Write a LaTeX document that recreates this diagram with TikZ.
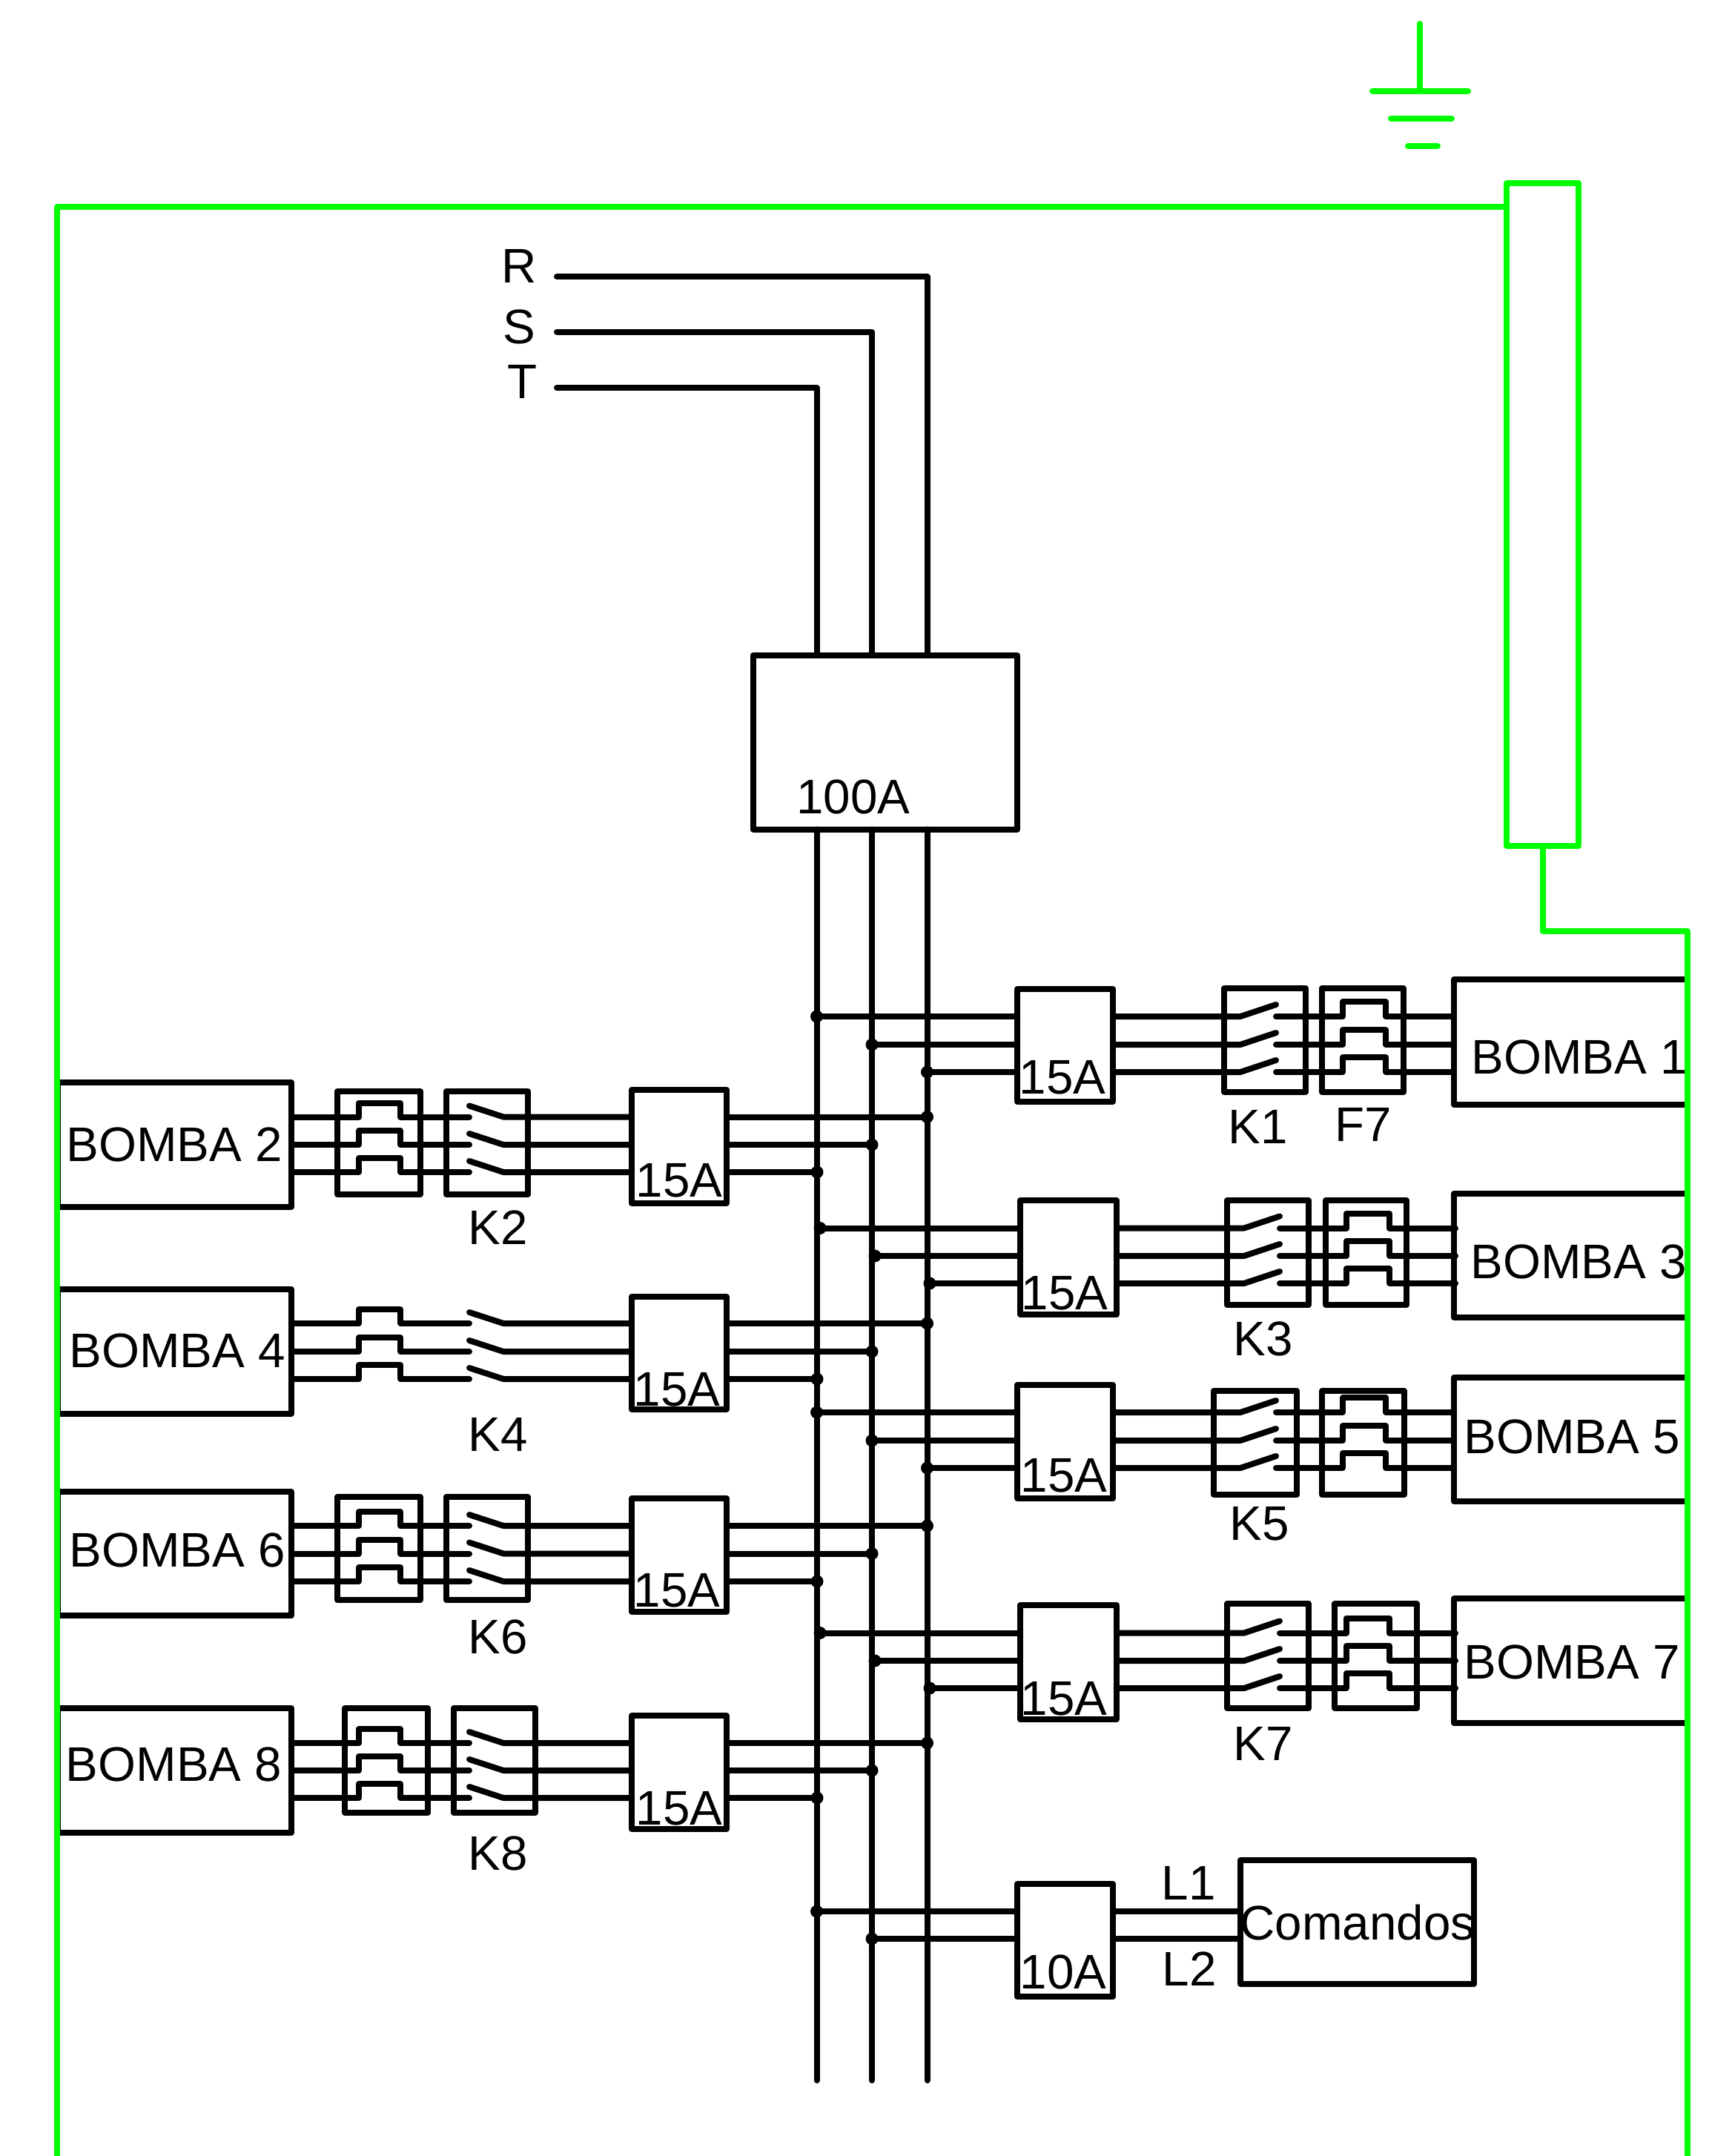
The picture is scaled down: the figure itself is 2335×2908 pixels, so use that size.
\documentclass[tikz,border=0pt]{standalone}
\usepackage{fontspec}
\setmainfont{Liberation Sans}
\tikzset{
  wire/.style={line width=8pt,line cap=round,line join=round,black},
  gwire/.style={line width=8pt,line cap=round,line join=round,green},
  blk/.style={draw=black,line width=8pt,line join=round,inner sep=0pt,outer sep=0pt,fill=none},
  gblk/.style={draw=green,line width=8pt,line join=round,inner sep=0pt,outer sep=0pt,fill=none},
  txt/.style={inner sep=0pt,outer sep=0pt,anchor=base,font=\fontsize{65.5}{70}\selectfont},
  dotc/.style={circle,fill=black,inner sep=0pt,minimum size=17pt,outer sep=0pt}
}
\definecolor{green}{RGB}{0,255,0}
\newcommand{\blkn}[6][blk]{%
  \node[#1,minimum width={(#5-#3)*1pt},minimum height={(#6-#4)*1pt}] (#2) at ({(#3+#5)/2},{(#4+#6)/2}) {};}
\newcommand{\lab}[4]{\node[txt] (#1) at (#2,#3) {#4};}
% right phase: id, dot x, y, breaker, hinge x, bump left x, end x
\newcommand{\Rph}[7]{%
  \node[dotc] (#1d) at (#2,#3) {};
  \coordinate (#1h) at (#5,#3);
  \coordinate (#1t) at ({#5+48},{#3-16});
  \coordinate (#1c) at ({#5+48},#3);
  \coordinate (#1e) at (#7,#3);
  \draw[wire] (#1d.center) -- (#1d.center -| #4.west);
  \draw[wire] (#1d.center -| #4.east) -- (#1h) -- (#1t);
  \draw[wire] (#1c) -- (#6,#3) -- (#6,{#3-20}) -- ({#6+58},{#3-20}) -- ({#6+58},#3) -- (#1e);}
% left phase: id, dot x, y, breaker, motor box
\newcommand{\Lph}[5]{%
  \node[dotc] (#1d) at (#2,#3) {};
  \coordinate (#1h) at (679,#3);
  \coordinate (#1t) at (633,{#3-15});
  \coordinate (#1c) at (633,#3);
  \draw[wire] (#1d.center) -- (#1d.center -| #4.east);
  \draw[wire] (#1d.center -| #4.west) -- (#1h) -- (#1t);
  \draw[wire] (#1c) -- (540,#3) -- (540,{#3-19}) -- (484,{#3-19}) -- (484,#3) -- (#1d.center -| #5.east);}
\begin{document}
\begin{tikzpicture}[x=1pt,y=-1pt]
\useasboundingbox (0,0) rectangle (2335,2908);
% main breaker and buses
\blkn{qm}{1015.5}{884}{1372}{1118.5}
\lab{qmt}{1151}{1097}{100A}
\lab{tR}{700}{381}{R}
\lab{tS}{700}{463}{S}
\lab{tT}{704}{537}{T}
\coordinate (rs) at (751,373); \coordinate (ss) at (751,447.5); \coordinate (ts) at (751,523);
\coordinate (rb) at (1250.5,2806); \coordinate (sb) at (1176,2806); \coordinate (tb) at (1101.5,2806);
\draw[wire] (rs) -- (rs -| rb) -- (rb |- qm.north);
\draw[wire] (ss) -- (ss -| sb) -- (sb |- qm.north);
\draw[wire] (ts) -- (ts -| tb) -- (tb |- qm.north);
\draw[wire] (rb |- qm.south) -- (rb);
\draw[wire] (sb |- qm.south) -- (sb);
\draw[wire] (tb |- qm.south) -- (tb);
% BOMBA 1
\blkn{b1}{1372}{1334}{1501}{1486}
\blkn{k1}{1651}{1333}{1761}{1473}
\blkn{f1}{1783}{1333}{1893}{1473}
\blkn{m1}{1961}{1321}{2276}{1490}
\Rph{a1}{1101.5}{1371}{b1}{1673}{1811}{1961}
\Rph{a2}{1176}{1409}{b1}{1673}{1811}{1961}
\Rph{a3}{1250.5}{1446}{b1}{1673}{1811}{1961}
\lab{b1t}{1433}{1475}{15A}
\lab{k1t}{1697}{1542}{K1}
\lab{f1t}{1839}{1539}{F7}
\lab{m1t}{2130}{1448}{BOMBA 1}
% BOMBA 3
\blkn{b3}{1376}{1619}{1506}{1773}
\blkn{k3}{1655}{1619}{1765}{1760}
\blkn{f3}{1788}{1619}{1897}{1760}
\blkn{m3}{1961}{1610}{2276}{1777}
\Rph{c1}{1106}{1656.5}{b3}{1678}{1816}{1963}
\Rph{c2}{1180}{1694}{b3}{1678}{1816}{1963}
\Rph{c3}{1254}{1731}{b3}{1678}{1816}{1963}
\lab{b3t}{1436}{1766}{15A}
\lab{k3t}{1704}{1828}{K3}
\lab{m3t}{2129}{1724}{BOMBA 3}
% BOMBA 5
\blkn{b5}{1372}{1868}{1501}{2021}
\blkn{k5}{1637}{1876}{1749}{2016}
\blkn{f5}{1783}{1876}{1894}{2016}
\blkn{m5}{1961}{1858}{2276}{2025}
\Rph{e1}{1101.5}{1905}{b5}{1673}{1811}{1961}
\Rph{e2}{1176}{1943}{b5}{1673}{1811}{1961}
\Rph{e3}{1250.5}{1980}{b5}{1673}{1811}{1961}
\lab{b5t}{1435}{2012}{15A}
\lab{k5t}{1699}{2077}{K5}
\lab{m5t}{2120}{1960}{BOMBA 5}
% BOMBA 7
\blkn{b7}{1376}{2165}{1506}{2319}
\blkn{k7}{1655}{2163}{1765}{2304}
\blkn{f7}{1800}{2163}{1911}{2304}
\blkn{m7}{1961}{2156}{2276}{2324}
\Rph{g1}{1106}{2202.5}{b7}{1678}{1816}{1963}
\Rph{g2}{1180}{2240}{b7}{1678}{1816}{1963}
\Rph{g3}{1254}{2277}{b7}{1678}{1816}{1963}
\lab{b7t}{1435}{2313}{15A}
\lab{k7t}{1704}{2374}{K7}
\lab{m7t}{2120}{2264}{BOMBA 7}
% BOMBA 2
\blkn{m2}{78}{1460}{393}{1628}
\blkn{f2}{455}{1472}{567}{1611}
\blkn{k2}{601.5}{1472}{712}{1611}
\blkn{b2}{852}{1470}{980}{1623}
\Lph{h1}{1250.5}{1506.5}{b2}{m2}
\Lph{h2}{1176}{1544}{b2}{m2}
\Lph{h3}{1102}{1581}{b2}{m2}
\lab{m2t}{235}{1566}{BOMBA 2}
\lab{b2t}{916}{1614}{15A}
\lab{k2t}{672}{1678}{K2}
% BOMBA 4
\blkn{m4}{78}{1739}{393}{1907}
\blkn{b4}{852}{1749}{980}{1901}
\Lph{i1}{1250.5}{1785}{b4}{m4}
\Lph{i2}{1176}{1823}{b4}{m4}
\Lph{i3}{1102}{1860}{b4}{m4}
\lab{m4t}{239}{1844}{BOMBA 4}
\lab{b4t}{913}{1896}{15A}
\lab{k4t}{672}{1957}{K4}
% BOMBA 6
\blkn{m6}{78}{2012}{393}{2179}
\blkn{f6}{455}{2019}{567}{2158}
\blkn{k6}{601.5}{2019}{712}{2158}
\blkn{b6}{852}{2021}{980}{2174}
\Lph{j1}{1250.5}{2058}{b6}{m6}
\Lph{j2}{1176}{2095.5}{b6}{m6}
\Lph{j3}{1102}{2133}{b6}{m6}
\lab{m6t}{239}{2113}{BOMBA 6}
\lab{b6t}{913}{2167}{15A}
\lab{k6t}{672}{2230}{K6}
% BOMBA 8
\blkn{m8}{78}{2304}{393}{2472}
\blkn{f8}{465}{2304}{577}{2445}
\blkn{k8}{611.5}{2304}{722}{2445}
\blkn{b8}{852}{2314}{980}{2467}
\Lph{l1}{1250.5}{2351}{b8}{m8}
\Lph{l2}{1176}{2388}{b8}{m8}
\Lph{l3}{1102}{2425}{b8}{m8}
\lab{m8t}{234.5}{2402}{BOMBA 8}
\lab{b8t}{916}{2461}{15A}
\lab{k8t}{672}{2522}{K8}
% Comandos
\blkn{b9}{1372}{2541}{1501}{2693}
\blkn{cm}{1673}{2509}{1988}{2676}
\node[dotc] (n1) at (1101.5,2578) {};
\node[dotc] (n2) at (1176,2615) {};
\draw[wire] (n1.center) -- (n1.center -| b9.west);
\draw[wire] (n2.center) -- (n2.center -| b9.west);
\draw[wire] (n1.center -| b9.east) -- (n1.center -| cm.west);
\draw[wire] (n2.center -| b9.east) -- (n2.center -| cm.west);
\lab{b9t}{1434}{2682}{10A}
\lab{cmt}{1831}{2616}{Comandos}
\lab{l1t}{1603}{2562}{L1}
\lab{l2t}{1604}{2678}{L2}
% earth
\blkn[gblk]{pe}{2032}{247}{2129}{1141}
\coordinate (g0) at (1915,32);
\coordinate (g1) at (1915,122);
\coordinate (ga1) at (1851,122.5); \coordinate (ga2) at (1980,122.5);
\coordinate (gb1) at (1876,160); \coordinate (gb2) at (1958,160);
\coordinate (gc1) at (1899,197); \coordinate (gc2) at (1939,197);
\draw[gwire] (g0) -- (g1);
\draw[gwire] (ga1) -- (ga2);
\draw[gwire] (gb1) -- (gb2);
\draw[gwire] (gc1) -- (gc2);
\coordinate (gl) at (77,2920);
\coordinate (gr) at (2276,2920);
\coordinate (gt) at (77,279);
\coordinate (gm) at (2276,1256);
\draw[gwire] (gl) -- (gt) -- (gt -| pe.west);
\draw[gwire] (pe.south) -- (pe.south |- gm) -- (gm) -- (gr);
\end{tikzpicture}
\end{document}
